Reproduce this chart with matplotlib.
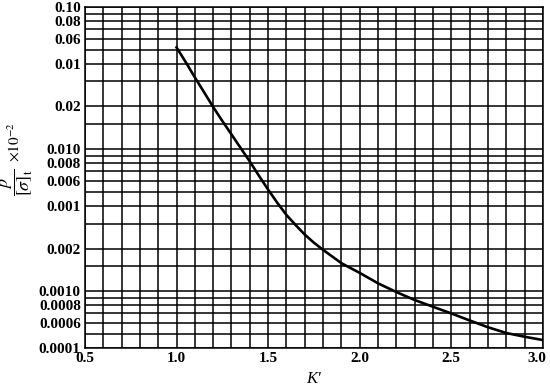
import numpy as np
import matplotlib
matplotlib.use("Agg")
import matplotlib.pyplot as plt
import matplotlib.transforms as mtransforms

plt.rcParams['font.family'] = 'Liberation Serif'
plt.rcParams['mathtext.fontset'] = 'stix'

# curve
k_prime = [1.0, 1.05, 1.1, 1.15, 1.2, 1.25, 1.3, 1.35, 1.4, 1.45, 1.5,
           1.55, 1.6, 1.65, 1.7, 1.75, 1.8, 1.85, 1.9, 1.95, 2.0,
           2.1, 2.2, 2.3, 2.4, 2.5, 2.6, 2.7, 2.8, 2.9, 3.0]
p_ratio = [0.052, 0.041, 0.032, 0.0252, 0.0198, 0.0158, 0.0127, 0.0102,
           0.0082, 0.0065, 0.0052, 0.0042, 0.00345, 0.00293, 0.00251, 0.0022,
           0.00196, 0.00176, 0.00158, 0.00146, 0.00135, 0.00114, 0.00099,
           0.00087, 0.00078, 0.0007, 0.000625, 0.00056, 0.00051, 0.00048,
           0.000455]

# labelled lines (labels kept as printed in the original)
y_major = [0.1, 0.08, 0.06, 0.04, 0.02, 0.01, 0.008, 0.006, 0.004, 0.002,
           0.001, 0.0008, 0.0006, 0.0004]
y_labels = ["0.10", "0.08", "0.06", "0.01", "0.02", "0.010", "0.008", "0.006",
            "0.001", "0.002", "0.0010", "0.0008", "0.0006", "0.0001"]
y_minor = [0.09, 0.07, 0.05, 0.03, 0.015, 0.009, 0.007, 0.005, 0.003,
           0.0015, 0.0009, 0.0007, 0.0005]
x_ticks = [0.5, 1.0, 1.5, 2.0, 2.5, 3.0]

fig = plt.figure(figsize=(5.5, 3.91), dpi=100)
ax = fig.add_axes([0.1545, 0.110, 0.8325, 0.872])

ax.plot(k_prime, p_ratio, color='black', lw=1.9, zorder=3)

ax.set_yscale('log')
ax.set_xlim(0.5, 3.0)
ax.set_ylim(0.0004, 0.1)
ax.set_yticks(y_major, y_labels)
ax.set_yticks(y_minor, minor=True)
ax.yaxis.set_minor_formatter(matplotlib.ticker.NullFormatter())
ax.set_xticks(x_ticks, [f"{v:.1f}" for v in x_ticks])
ax.set_xticks(np.arange(0.6, 3.0, 0.1), minor=True)

ax.grid(True, which='both', color='black', lw=1.1)
ax.tick_params(which='both', length=0, labelsize=11, pad=3)
for lab in ax.get_xticklabels() + ax.get_yticklabels():
    lab.set_fontweight('bold')
# keep "3.0" inside the figure
last = ax.get_xticklabels()[-1]
last.set_transform(last.get_transform() +
                   mtransforms.ScaledTranslation(-6 / 100, 0, fig.dpi_scale_trans))
for s in ax.spines.values():
    s.set_linewidth(1.1)

ax.set_xlabel("K'", fontsize=12, fontstyle='italic', labelpad=4)

# y label: fraction plus the x10^-2 factor, drawn rotated
fig.text(17 / 550, 1 - 182 / 391, r"$\dfrac{p}{[\sigma]_{\rm t}}$", rotation=90,
         fontsize=13, ha='center', va='center')
fig.text(14 / 550, 1 - 142 / 391, r"$\times10^{-2}$", rotation=90,
         fontsize=11, ha='center', va='center', family='Liberation Sans')

fig.savefig("out.png", dpi=100)
